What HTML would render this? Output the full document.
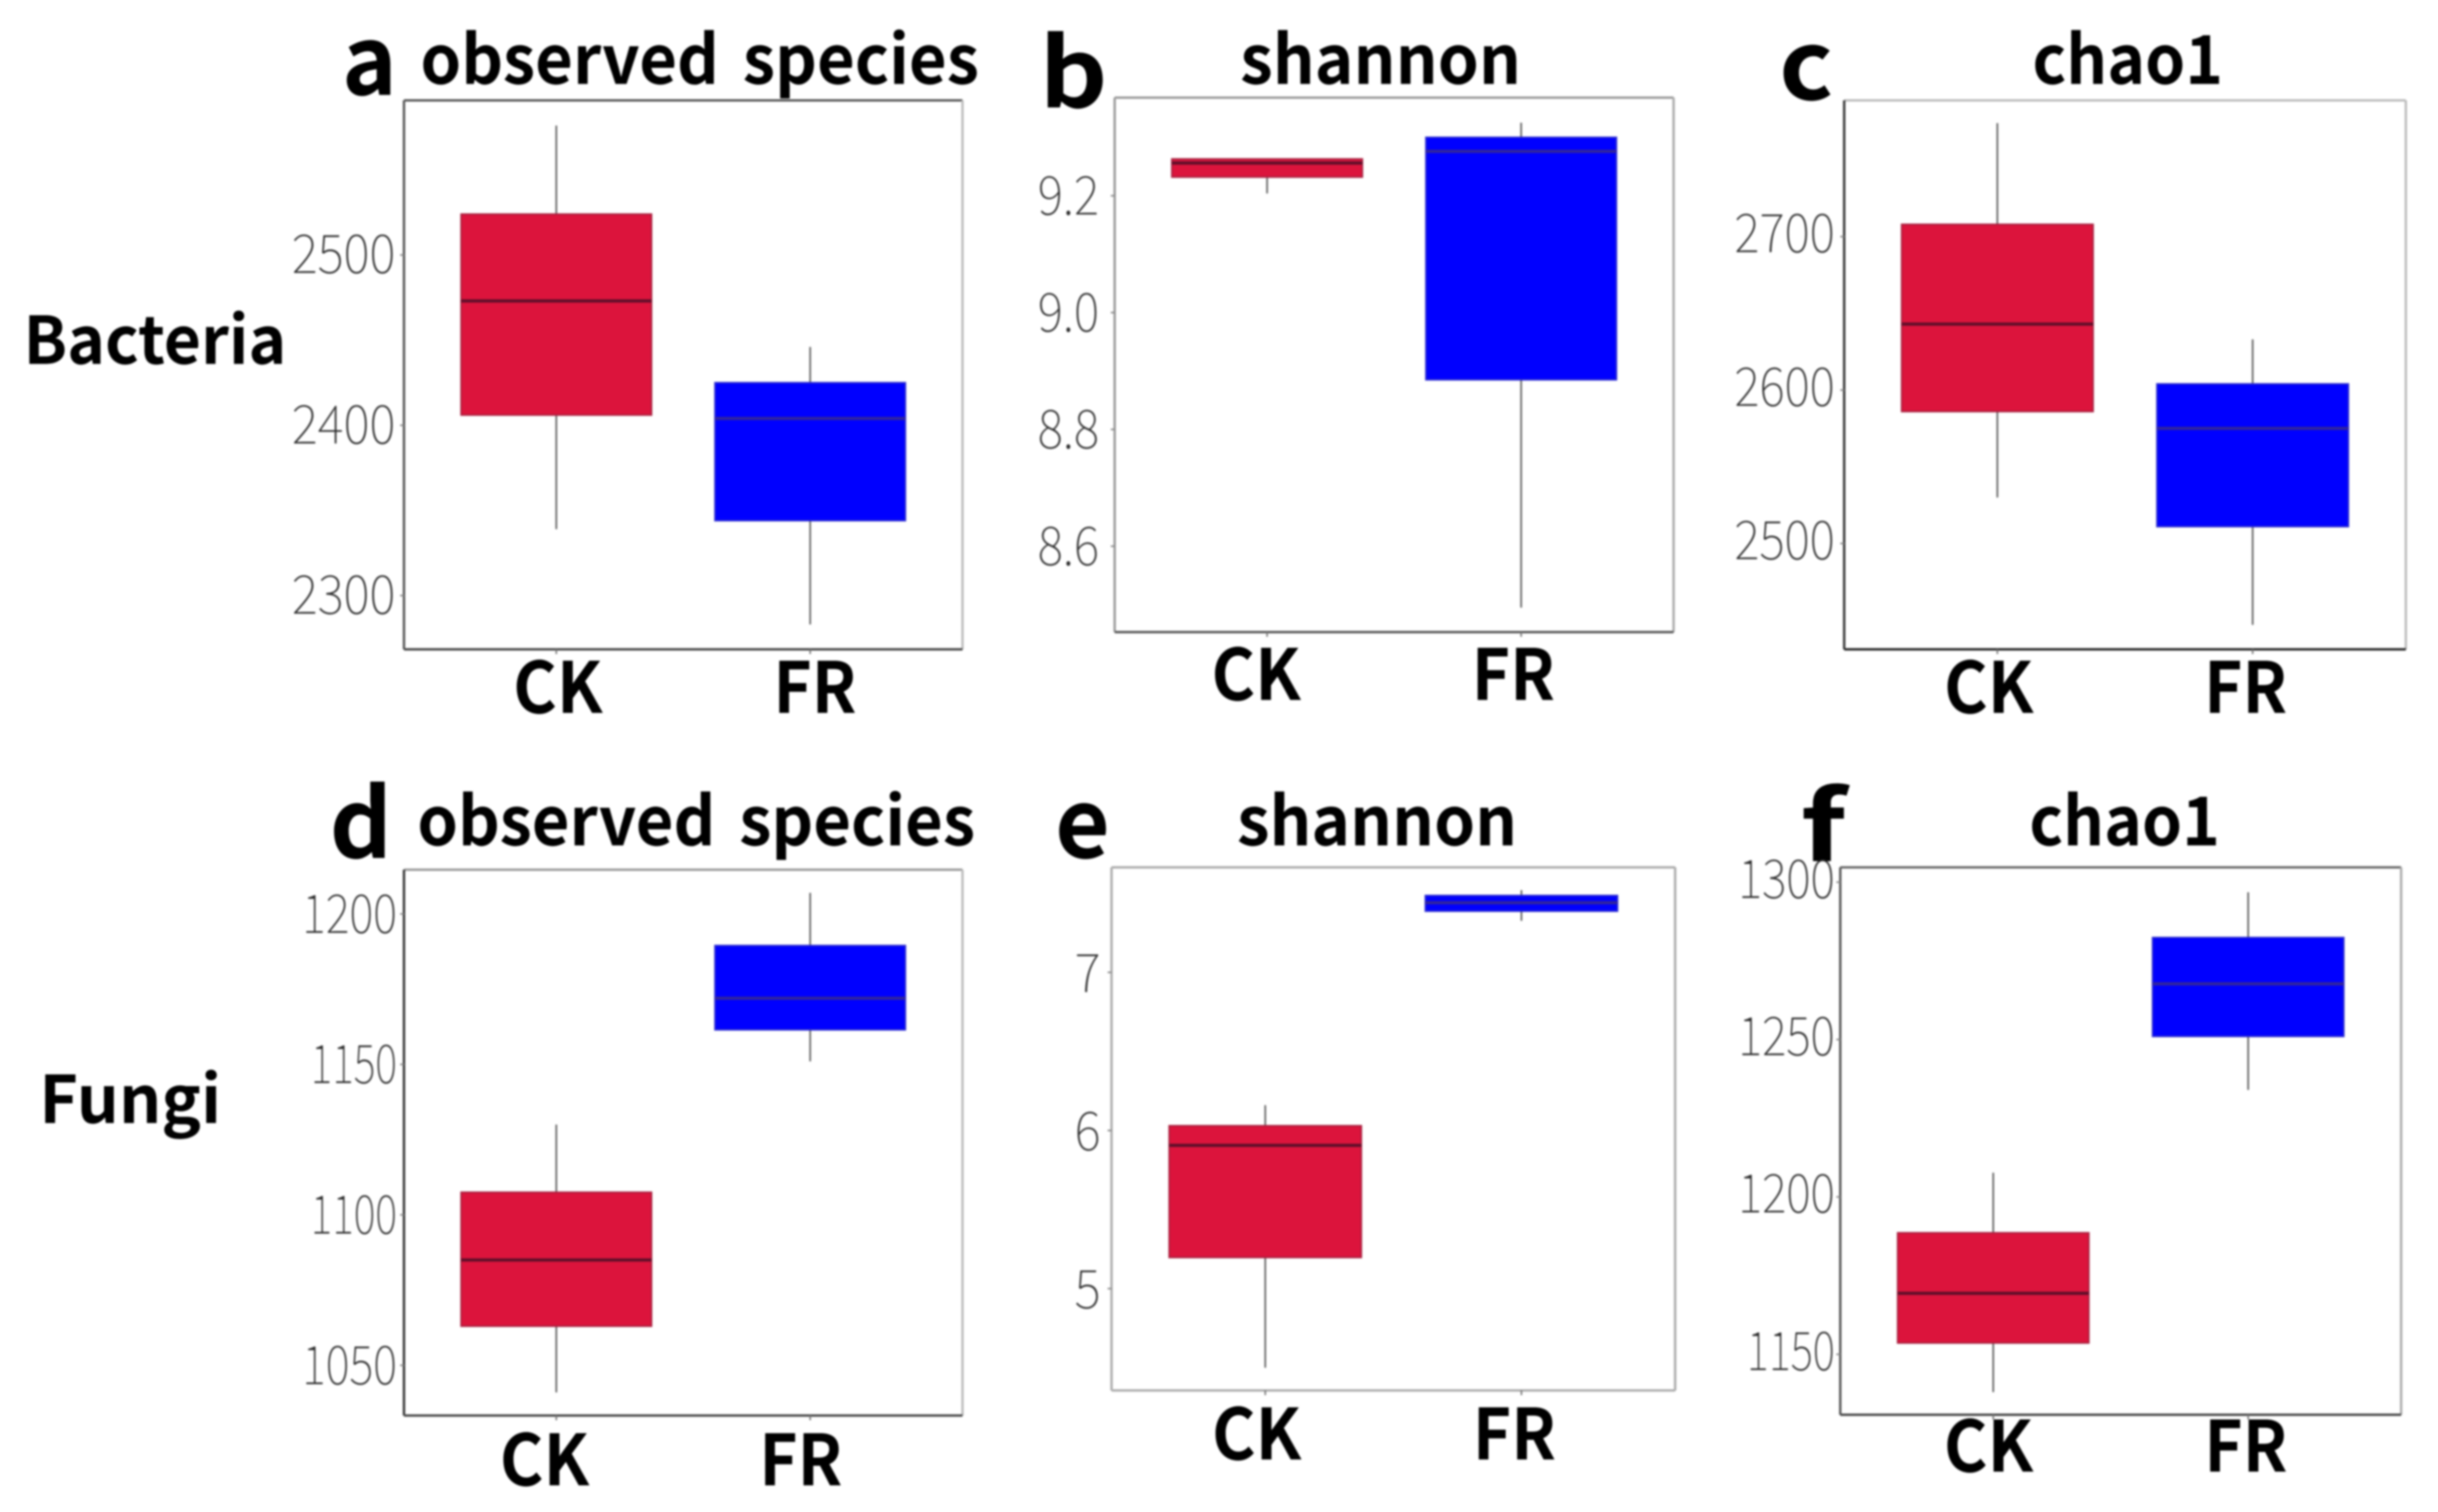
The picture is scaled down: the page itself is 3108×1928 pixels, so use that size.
<!DOCTYPE html>
<html lang="en">
<head>
<meta charset="utf-8">
<title>Alpha diversity boxplots</title>
<style>
html,body{margin:0;padding:0;background:#fff;width:3108px;height:1928px;overflow:hidden}
svg{display:block;filter:blur(1.2px)}
.bold{font-family:"Noto Sans CJK SC","Liberation Sans",sans-serif;font-weight:700;fill:#000}
.tick{font-family:"Noto Sans CJK SC","Liberation Sans",sans-serif;font-weight:100;fill:#2a2a2a}
.words{word-spacing:12px}
</style>
</head>
<body>
<svg id="figure" xmlns="http://www.w3.org/2000/svg" width="3108" height="1928" viewBox="0 0 3108 1928">
  <rect width="3108" height="1928" fill="#fff"/>
  <text class="bold" x="30" y="464" font-size="84" textLength="335" lengthAdjust="spacingAndGlyphs">Bacteria</text>
  <text class="bold" x="50" y="1432" font-size="84" textLength="232" lengthAdjust="spacingAndGlyphs">Fungi</text>

  <text class="bold" x="436" y="121" font-size="122" textLength="70" lengthAdjust="spacingAndGlyphs">a</text>
  <text class="bold" x="1325" y="137" font-size="122" textLength="87" lengthAdjust="spacingAndGlyphs">b</text>
  <text class="bold" x="2268" y="127" font-size="122" textLength="69" lengthAdjust="spacingAndGlyphs">c</text>
  <text class="bold" x="420" y="1094" font-size="122" textLength="80" lengthAdjust="spacingAndGlyphs">d</text>
  <text class="bold" x="1345" y="1094" font-size="122" textLength="70" lengthAdjust="spacingAndGlyphs">e</text>
  <text class="bold" x="2295" y="1098" font-size="122" textLength="58" lengthAdjust="spacingAndGlyphs">f</text>

  <text class="bold words" x="536" y="107" font-size="86" textLength="712" lengthAdjust="spacingAndGlyphs">observed species</text>
  <text class="bold" x="1581" y="107" font-size="86" textLength="358" lengthAdjust="spacingAndGlyphs">shannon</text>
  <text class="bold" x="2591" y="107" font-size="86" textLength="243" lengthAdjust="spacingAndGlyphs">chao1</text>
  <text class="bold words" x="532" y="1078" font-size="86" textLength="711" lengthAdjust="spacingAndGlyphs">observed species</text>
  <text class="bold" x="1577" y="1078" font-size="86" textLength="357" lengthAdjust="spacingAndGlyphs">shannon</text>
  <text class="bold" x="2587" y="1078" font-size="86" textLength="243" lengthAdjust="spacingAndGlyphs">chao1</text>
</svg>
<script>
// Categories shared by every panel
const categories = ['CK', 'FR'];

// Five-number summaries: [low whisker, Q1, median, Q3, high whisker]
const bacteriaObservedCK = [2339, 2406, 2473, 2524, 2576];
const bacteriaObservedFR = [2283, 2344, 2404, 2425, 2446];
const bacteriaShannonCK = [9.204, 9.232, 9.256, 9.263, 9.263];
const bacteriaShannonFR = [8.495, 8.885, 9.276, 9.30, 9.325];
const bacteriaChaoCK = [2530, 2586, 2643, 2708, 2774];
const bacteriaChaoFR = [2447, 2511, 2575, 2604, 2633];
const fungiObservedCK = [1041, 1063, 1085, 1107.5, 1130];
const fungiObservedFR = [1151, 1161.5, 1172, 1189.5, 1207];
const fungiShannonCK = [4.5, 5.197, 5.906, 6.03, 6.16];
const fungiShannonFR = [7.326, 7.387, 7.44, 7.486, 7.52];
const fungiChaoCK = [1138, 1153.6, 1169.4, 1188.6, 1207.7];
const fungiChaoFR = [1234, 1251, 1267.7, 1282.4, 1296.8];

// Tick labels
const bacteriaObservedTicks = ['2300', '2400', '2500'];
const bacteriaShannonTicks = ['8.6', '8.8', '9.0', '9.2'];
const bacteriaChaoTicks = ['2500', '2600', '2700'];
const fungiObservedTicks = ['1050', '1100', '1150', '1200'];
const fungiShannonTicks = ['5', '6', '7'];
const fungiChaoTicks = ['1150', '1200', '1250', '1300'];

// Value range at the bottom and top edge of each plot
const bacteriaObservedDomain = [2268.4, 2590.8];
const bacteriaShannonDomain = [8.453, 9.368];
const bacteriaChaoDomain = [2431, 2788.8];
const fungiObservedDomain = [1033.3, 1214.7];
const fungiShannonDomain = [4.356, 7.664];
const fungiChaoDomain = [1130.8, 1304.7];

const NS = 'http://www.w3.org/2000/svg';
const svg = document.getElementById('figure');
const fills = ['#dc143c', '#0000ff'];
const medians = ['#5e0f2a', '#33269a'];
const edges = ['#a8203f', '#2a2ad0'];

const panels = [
  {key:'bacteria-observed', x0:515, x1:1227, y0:128, y1:828, domain:bacteriaObservedDomain, ticks:bacteriaObservedTicks, series:[bacteriaObservedCK, bacteriaObservedFR], leftCol:'#555', topCol:'#555', rightCol:'#bbb', botCol:'#444', catY:909, catDx:[2,6], labelDy:23, labelGap:11, labelScale:1},
  {key:'bacteria-shannon', x0:1421, x1:2133.5, y0:124.5, y1:806, domain:bacteriaShannonDomain, ticks:bacteriaShannonTicks, series:[bacteriaShannonCK, bacteriaShannonFR], leftCol:'#999', topCol:'#999', rightCol:'#aaa', botCol:'#555', catY:892.5, catDx:[-14,-10], labelDy:24, labelGap:20, labelScale:1},
  {key:'bacteria-chao1', x0:2351, x1:3067, y0:128, y1:828, domain:bacteriaChaoDomain, ticks:bacteriaChaoTicks, series:[bacteriaChaoCK, bacteriaChaoFR], leftCol:'#333', topCol:'#bbb', rightCol:'#bbb', botCol:'#222', catY:909, catDx:[-11,-9], labelDy:20, labelGap:12, labelScale:0.97},
  {key:'fungi-observed', x0:515, x1:1227, y0:1109, y1:1805, domain:fungiObservedDomain, ticks:fungiObservedTicks, series:[fungiObservedCK, fungiObservedFR], leftCol:'#333', topCol:'#999', rightCol:'#bbb', botCol:'#444', catY:1894, catDx:[-15,-12], labelDy:24, labelGap:9, labelScale:1},
  {key:'fungi-shannon', x0:1417, x1:2135.5, y0:1106, y1:1773, domain:fungiShannonDomain, ticks:fungiShannonTicks, series:[fungiShannonCK, fungiShannonFR], leftCol:'#aaa', topCol:'#aaa', rightCol:'#aaa', botCol:'#aaa', catY:1861, catDx:[-11,-9], labelDy:25, labelGap:14, labelScale:1},
  {key:'fungi-chao1', x0:2346, x1:3061, y0:1106, y1:1804, domain:fungiChaoDomain, ticks:fungiChaoTicks, series:[fungiChaoCK, fungiChaoFR], leftCol:'#555', topCol:'#666', rightCol:'#aaa', botCol:'#444', catY:1876.5, catDx:[-6,-3], labelDy:20, labelGap:7, labelScale:1.02}
];

function make(tag, attrs, parent) {
  const el = document.createElementNS(NS, tag);
  for (const k in attrs) el.setAttribute(k, attrs[k]);
  parent.appendChild(el);
  return el;
}

function scaleY(p, v) {
  return p.y1 - (v - p.domain[0]) / (p.domain[1] - p.domain[0]) * (p.y1 - p.y0);
}
function unit(p) { return (p.x1 - p.x0) / 2.2; }
function scaleX(p, i) { return p.x0 + (0.6 + i) * unit(p); }

// The source font has proportional numerals, so label width depends on the characters
function labelWidth(text, factor) {
  let w = 0;
  for (const ch of text) w += ch === '1' ? 22 : ch === '.' ? 12 : 33;
  return w * factor;
}

const catWidths = [114, 106];

panels.forEach(function (p) {
  const g = make('g', {}, svg);
  
  

  const sides = [
    ['top', p.x0, p.y0, p.x1, p.y0, p.topCol],
    ['right', p.x1, p.y0, p.x1, p.y1, p.rightCol],
    ['left', p.x0, p.y0, p.x0, p.y1, p.leftCol],
    ['bottom', p.x0, p.y1, p.x1, p.y1, p.botCol]
  ];
  sides.forEach(function (s) {
    const axis = make('line', {x1:s[1], y1:s[2], x2:s[3], y2:s[4], stroke:s[5], 'stroke-width':3}, g);
    
    
  });

  p.ticks.forEach(function (t) {
    const y = scaleY(p, parseFloat(t));
    const mark = make('line', {x1:p.x0 - 5, y1:y, x2:p.x0, y2:y, stroke:'#888', 'stroke-width':2}, g);
    
    
    const label = make('text', {x:p.x0 - p.labelGap, y:y + p.labelDy, 'text-anchor':'end', 'font-size':68, textLength:labelWidth(t, p.labelScale), lengthAdjust:'spacingAndGlyphs', class:'tick'}, g);
    
    
    label.textContent = t;
  });

  categories.forEach(function (name, i) {
    const cx = scaleX(p, i);
    const w = 0.75 * unit(p);
    const s = p.series[i];

    const xt = make('line', {x1:cx, y1:p.y1, x2:cx, y2:p.y1 + 6, stroke:'#777', 'stroke-width':2}, g);
    
    

    const whisker = make('line', {x1:cx, y1:scaleY(p, s[4]), x2:cx, y2:scaleY(p, s[0]), stroke:'#555', 'stroke-width':2}, g);
    
    

    const box = make('rect', {x:cx - w / 2, y:scaleY(p, s[3]), width:w, height:scaleY(p, s[1]) - scaleY(p, s[3]), fill:fills[i], stroke:edges[i], 'stroke-width':2}, g);
    
    

    const med = make('line', {x1:cx - w / 2, y1:scaleY(p, s[2]), x2:cx + w / 2, y2:scaleY(p, s[2]), stroke:medians[i], 'stroke-width':4}, g);
    
    

    const cat = make('text', {x:cx + p.catDx[i], y:p.catY, 'text-anchor':'middle', 'font-size':90, textLength:catWidths[i], lengthAdjust:'spacingAndGlyphs', class:'bold'}, g);
    
    
    cat.textContent = name;
  });
});
</script>
</body>
</html>
